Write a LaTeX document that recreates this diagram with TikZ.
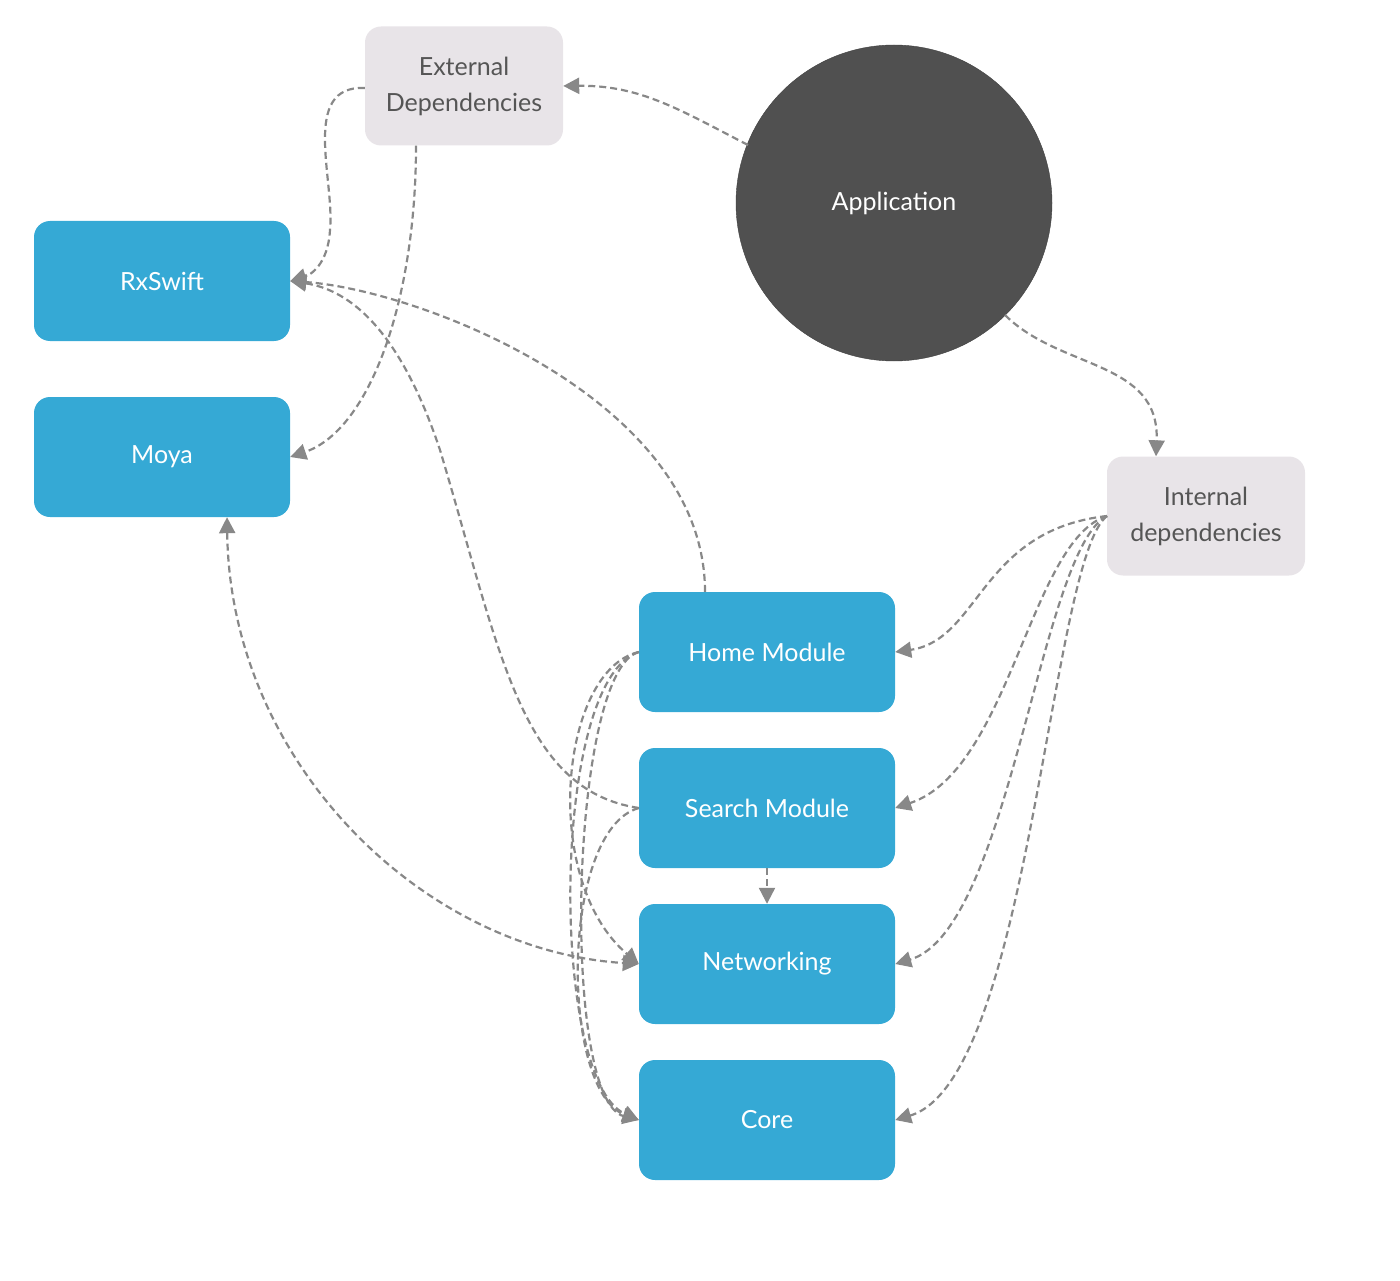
\documentclass[tikz,border=0pt]{standalone}
\usepackage{fontspec}
\setmainfont{Lato}
\usetikzlibrary{arrows.meta}
\definecolor{blu}{HTML}{35A9D5}
\definecolor{lgr}{HTML}{E8E4E8}
\definecolor{dgr}{HTML}{505050}
\definecolor{edg}{HTML}{888888}
\definecolor{txt}{HTML}{555555}
\begin{document}
\begin{tikzpicture}[x=1pt,y=-1pt,
 box/.style={rectangle,rounded corners=16pt,minimum width=256pt,minimum height=120pt,fill=blu,text=white,font=\fontsize{25}{30}\selectfont,inner sep=0pt},
 gbox/.style={rectangle,rounded corners=16pt,minimum width=198pt,minimum height=119pt,fill=lgr,text=txt,align=center,font=\fontsize{25}{36}\selectfont,inner sep=0pt},
 dep/.style={draw=edg,line width=2.2pt,dashed,dash pattern=on 7pt off 4pt,-{Triangle[length=16pt,width=16pt]}}]
\useasboundingbox (0,0) rectangle (1400,1281);
\node[gbox] (ext) at (464,86) {External\\Dependencies};
\node[gbox] (int) at (1206,516) {Internal\\dependencies};
\node[circle,fill=dgr,draw=dgr!80!black,minimum size=316pt,text=white,font=\fontsize{25}{30}\selectfont] (app) at (894,203) {Application};
\node[box] (rx) at (162,281) {RxSwift};
\node[box] (moya) at (162,457) {Moya};
\node[box] (home) at (767,652) {Home Module};
\node[box] (search) at (767,808) {Search Module};
\node[box] (net) at (767,964) {Networking};
\node[box] (core) at (767,1120) {Core};
\coordinate (a1) at (748,145);
\coordinate (a2) at (1005,315);
\draw[dep] (a1) .. controls (680,110) and (640,85) .. (ext.east);
\draw[dep] (a2) .. controls (1060,370) and (1160,360) .. ([xshift=-50pt]int.north);
\draw[dep] ([yshift=-2pt]ext.west) .. controls (300,85) and (335,180) .. (330,230) .. controls (328,265) and (310,275) .. (rx.east);
\draw[dep] ([xshift=-48pt]ext.south) .. controls (416,300) and (370,430) .. (moya.east);
\draw[dep] ([xshift=-62pt]home.north) .. controls (705,400) and (420,290) .. (rx.east);
\draw[dep] (search.west) .. controls (520,790) and (500,650) .. (440,450) .. controls (400,330) and (350,290) .. (rx.east);
\draw[dep] (home.west) .. controls (560,670) and (540,880) .. (net.west);
\draw[dep] (home.west) .. controls (550,680) and (550,1080) .. (core.west);
\draw[dep] (home.west) .. controls (570,670) and (560,1100) .. (core.west);
\draw[dep] (search.west) .. controls (560,830) and (560,1090) .. (core.west);
\draw[dep] (search.south) -- (net.north);
\draw[dep,{Triangle[length=16pt,width=16pt]}-{Triangle[length=16pt,width=16pt]}] ([xshift=65pt]moya.south) .. controls (230,760) and (420,950) .. (net.west);
\coordinate (i1) at (1107,516);
\draw[dep] (i1) .. controls (980,530) and (980,640) .. (home.east);
\draw[dep] (i1) .. controls (1030,540) and (1010,770) .. (search.east);
\draw[dep] (i1) .. controls (1040,550) and (1010,930) .. (net.east);
\draw[dep] (i1) .. controls (1050,560) and (1030,1080) .. (core.east);
\end{tikzpicture}
\end{document}
